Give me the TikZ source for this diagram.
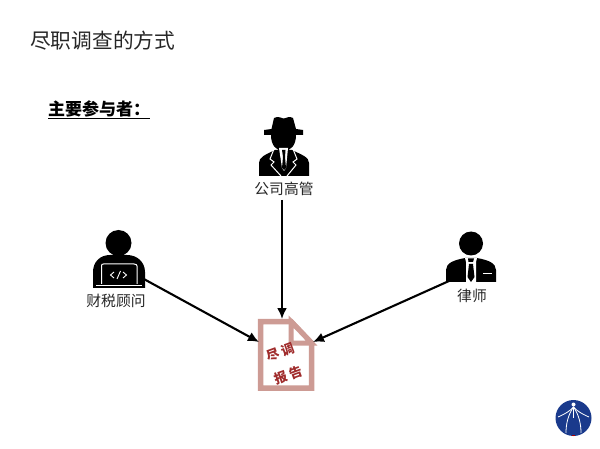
\documentclass[tikz,border=0pt]{standalone}
\usepackage{fontspec}
\setmainfont{Noto Sans CJK SC}
\usetikzlibrary{arrows.meta}
\definecolor{docrose}{HTML}{CD9B94}
\definecolor{docred}{HTML}{A02C2C}
\definecolor{logoblue}{HTML}{1A3A8C}
\tikzstyle{title} = [font=\fontsize{20.7}{24}\selectfont, text=black!85, inner sep=0pt]
\tikzstyle{lead} = [font=\fontsize{17}{20}\selectfont\bfseries, inner sep=0pt]
\tikzstyle{role} = [font=\fontsize{14.8}{17}\selectfont, text=black!85, inner sep=0pt]
\tikzstyle{stamp} = [font=\fontsize{13}{15}\selectfont\bfseries, text=docred, inner sep=0pt, rotate=20]
\tikzstyle{line} = [draw, -{Latex[length=11pt,width=10pt]}, line width=2.1pt]
\tikzstyle{icon} = [fill=black, draw=none]
\tikzstyle{cut} = [draw=white, line width=1pt]
\tikzstyle{doc} = [draw=docrose, line width=5.5pt, fill=white, line join=miter]

\begin{document}
\begin{tikzpicture}[x=1pt,y=-1pt]
\useasboundingbox (0,0) rectangle (600,449);

\node[title,anchor=west](heading) at (30,41){尽职调查的方式};
\node[lead,anchor=west](players) at (48,110){\underline{主要参与者：}};

% company executive
\fill[icon] (264,130) -- (271.5,129) -- (274,118) .. controls (279,115.5) and (281,118.5) .. (283.5,118.5) .. controls (286,118.5) and (289,115.5) .. (293,118) -- (296,129) -- (303,130) -- (303,135) -- (264,135) -- cycle;
\fill[icon] (271,135) -- (296,135) .. controls (296,145) and (291,151) .. (283.5,151) .. controls (276,151) and (271,145) .. (271,135) -- cycle;
\fill[icon] (259,176) -- (259,163) .. controls (259,157) and (265,155) .. (275,150) -- (292,150) .. controls (302,155) and (309,157) .. (309,163) -- (309,176) -- cycle;
\fill[white] (279,148) -- (288,148) -- (286,168) -- (284,171) -- (282,168) -- cycle;
\fill[black] (282,150) -- (285.5,150) -- (285,157) -- (286,168) -- (284,170) -- (282,168) -- (283,157) -- cycle;
\draw[cut] (274,149) -- (270,159) -- (274,162) -- (271,165) -- (281,176);
\draw[cut] (293,149) -- (297,159) -- (293,162) -- (296,165) -- (287,176);
\node[role](exec) at (284,188.5){公司高管};

% tax and finance adviser
\fill[icon] (118.5,243) circle (13);
\fill[icon] (93,288) -- (93,272) .. controls (93,262) and (100,255) .. (110,255) -- (127,255) .. controls (137,255) and (145,262) .. (145,272) -- (145,288) -- cycle;
\draw[cut] (101.5,284) -- (101.5,266) .. controls (101.5,264.5) and (102,264) .. (103.5,264) -- (134,264) .. controls (136,264) and (137,265) .. (137,266) -- (137,284);
\draw[cut] (96,285.5) -- (142,285.5);
\draw[draw=white,line width=0.9pt] (114,272) -- (110.5,275) -- (114,278);
\draw[draw=white,line width=0.9pt] (123,272) -- (126.5,275) -- (123,278);
\draw[draw=white,line width=0.9pt] (120.5,271) -- (117,279);
\node[role](finance) at (116,300.5){财税顾问};

% lawyer
\fill[icon] (471,243.5) circle (12);
\fill[icon] (446,282) -- (446,270) .. controls (446,263) and (454,260) .. (465,258) -- (477,258) .. controls (488,260) and (496,263) .. (496,270) -- (496,282) -- cycle;
\fill[white] (465,258) -- (477,258) -- (476,262) -- (476,282) -- (466,282) -- (466,262) -- cycle;
\fill[black] (468,258.5) -- (474,258.5) -- (473,262) -- (468.5,262) -- cycle;
\fill[black] (469,264) -- (473,264) -- (474.5,277) -- (471,282) -- (467.5,277) -- cycle;
\draw[cut,line width=1.6pt] (483,273.5) -- (491.5,273.5);
\node[role](lawyer) at (472,295.5){律师};

% report
\node[minimum width=56pt,minimum height=72pt,inner sep=0pt](report) at (286,355){};
\draw[doc] (260.5,321.5) -- (291,321.5) -- (311.5,343) -- (311.5,388) -- (260.5,388) -- cycle;
\draw[draw=docrose,line width=5pt,fill=white] (291,321.5) -- (291,343) -- (311.5,343) -- cycle;
\node[stamp](reportup) at (280,352){尽\hspace{3pt}调};
\node[stamp](reportdown) at (288,375){报\hspace{3pt}告};

\coordinate (reporttop) at (282,319);
\coordinate (reportleft) at (259,342);
\coordinate (reportright) at (313,342);
\coordinate (execfoot) at (282,200);
\coordinate (financefoot) at (142,278);
\coordinate (lawyerfoot) at (449,281);
\path [line] (execfoot) -- (reporttop);
\path [line] (financefoot) -- (reportleft);
\path [line] (lawyerfoot) -- (reportright);

% logo
\node[circle,fill=logoblue,minimum size=36pt,inner sep=0pt](logo) at (573.5,418){};
\fill[white] (573.5,404.5) circle (2);
\draw[white,line width=0.8pt] (558,417) .. controls (565,414) and (570,411) .. (573.5,407) .. controls (577,411) and (582,414) .. (589,417);
\draw[white,line width=0.8pt] (573.5,407) .. controls (568,415) and (566,424) .. (566,433);
\draw[white,line width=0.8pt] (573.5,407) .. controls (579,415) and (581,424) .. (581,433);
\draw[white,line width=0.8pt] (573.5,407) -- (573.5,418);
\fill[red!70!black] (572,434.5) rectangle (575,436);

\end{tikzpicture}
\end{document}
